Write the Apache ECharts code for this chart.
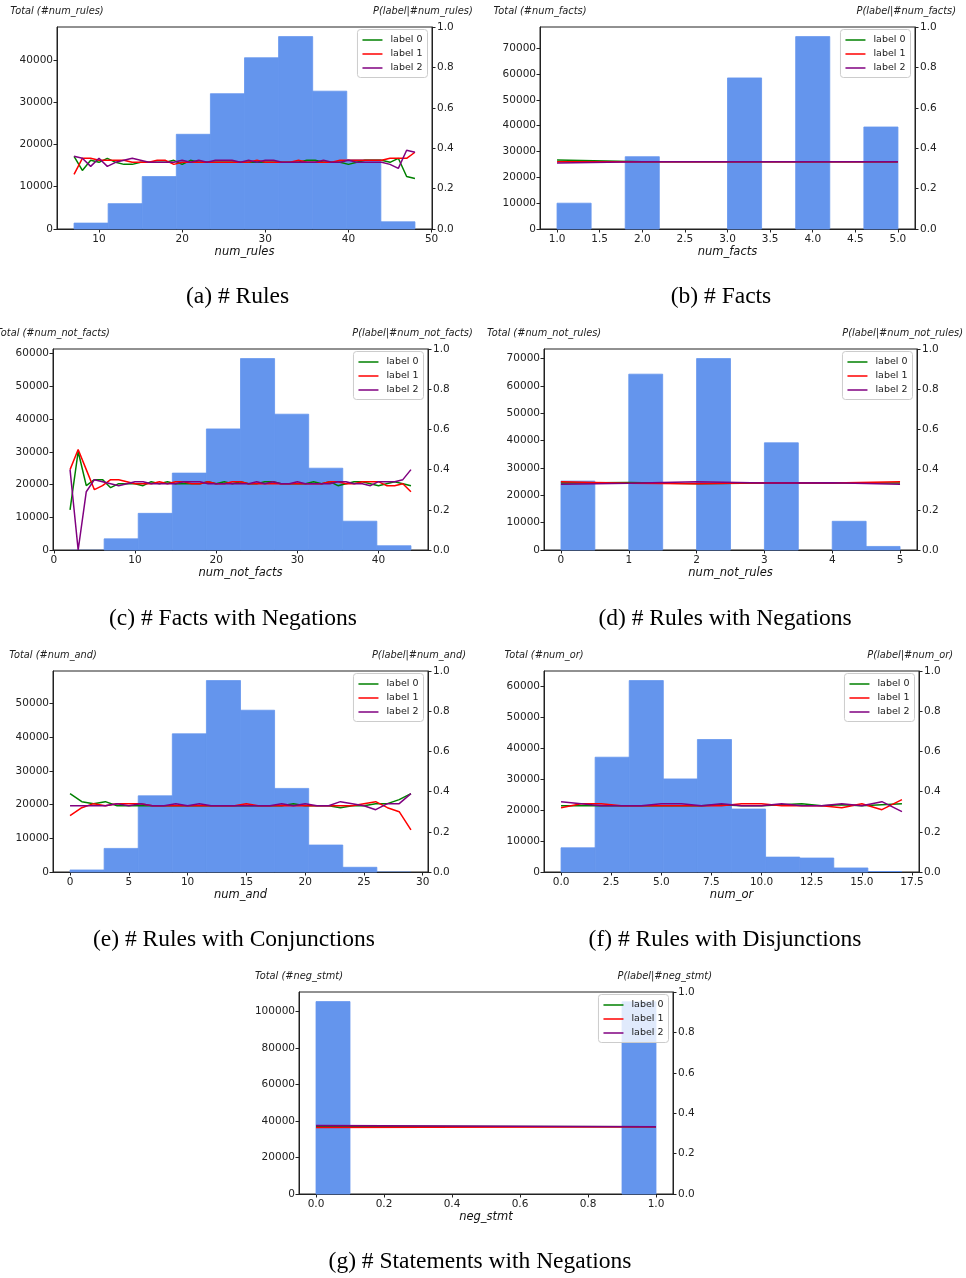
<!DOCTYPE html>
<html><head><meta charset="utf-8">
<script src="https://cdn.jsdelivr.net/npm/echarts@6/dist/echarts.min.js"></script>
<style>html,body{margin:0;padding:0;background:#fff}#c{width:966px;height:1278px}</style>
</head><body><div id="c"></div>
<script>
// ---------------- DATA ----------------
const seriesNames = ['label 0', 'label 1', 'label 2'];
const rightTicks = [0, 0.2, 0.4, 0.6, 0.8, 1.0];

// (a) num_rules
const a_edges = [7, 11.1, 15.2, 19.3, 23.4, 27.5, 31.6, 35.7, 39.8, 43.9, 48];
const a_counts = [1400, 6000, 12400, 22400, 32000, 40500, 45500, 32600, 16400, 1700];
const a_x = [7,8,9,10,11,12,13,14,15,16,17,18,19,20,21,22,23,24,25,26,27,28,29,30,31,32,33,34,35,36,37,38,39,40,41,42,43,44,45,46,47,48];
const a_p0 = [.36,.29,.34,.33,.35,.33,.32,.32,.33,.33,.33,.33,.34,.32,.34,.33,.33,.33,.33,.33,.33,.33,.33,.33,.33,.33,.33,.33,.34,.34,.33,.33,.33,.32,.33,.34,.34,.34,.33,.35,.26,.25];
const a_p1 = [.27,.35,.35,.34,.34,.34,.34,.33,.33,.33,.34,.34,.32,.33,.33,.33,.33,.33,.33,.33,.33,.33,.34,.33,.33,.33,.33,.34,.33,.33,.33,.33,.34,.34,.34,.34,.34,.34,.35,.35,.35,.38];
const a_p2 = [.36,.35,.31,.35,.31,.33,.34,.35,.34,.33,.33,.33,.33,.34,.33,.34,.33,.34,.34,.34,.33,.34,.33,.34,.34,.33,.33,.33,.33,.33,.34,.33,.33,.34,.33,.33,.33,.33,.32,.30,.39,.38];
const a_xticks = [10, 20, 30, 40, 50];
const a_yticks = [0, 10000, 20000, 30000, 40000];

// (b) num_facts
const b_edges = [1, 1.4, 1.8, 2.2, 2.6, 3.0, 3.4, 3.8, 4.2, 4.6, 5.0];
const b_counts = [10000, 0, 28000, 0, 0, 58500, 0, 74500, 0, 39500];
const b_x = [1, 2, 3, 4, 5];
const b_p0 = [.342, .333, .333, .333, .333];
const b_p1 = [.333, .333, .333, .333, .333];
const b_p2 = [.327, .333, .333, .333, .333];
const b_xticks = [1.0, 1.5, 2.0, 2.5, 3.0, 3.5, 4.0, 4.5, 5.0];
const b_yticks = [0, 10000, 20000, 30000, 40000, 50000, 60000, 70000];

// (c) num_not_facts
const c_edges = [2, 6.2, 10.4, 14.6, 18.8, 23, 27.2, 31.4, 35.6, 39.8, 44];
const c_counts = [40, 3400, 11200, 23500, 37000, 58500, 41500, 25000, 8800, 1300];
const c_x = [2,3,4,5,6,7,8,9,10,11,12,13,14,15,16,17,18,19,20,21,22,23,24,25,26,27,28,29,30,31,32,33,34,35,36,37,38,39,40,41,42,43,44];
const c_p0 = [.20,.49,.32,.35,.35,.31,.33,.33,.33,.32,.34,.33,.34,.33,.33,.33,.33,.34,.33,.34,.33,.34,.33,.33,.34,.34,.33,.33,.33,.33,.34,.33,.34,.32,.33,.34,.34,.33,.32,.33,.34,.33,.32];
const c_p1 = [.40,.50,.40,.30,.32,.35,.35,.34,.33,.33,.33,.34,.33,.34,.34,.33,.33,.34,.33,.33,.34,.34,.33,.33,.33,.33,.33,.33,.33,.33,.33,.33,.34,.34,.33,.33,.34,.34,.34,.32,.32,.33,.29];
const c_p2 = [.40,.00,.29,.35,.34,.33,.32,.33,.34,.34,.33,.33,.33,.33,.34,.34,.34,.33,.33,.33,.33,.33,.33,.34,.33,.34,.33,.33,.34,.33,.33,.33,.33,.34,.34,.33,.33,.32,.34,.34,.34,.35,.40];
const c_xticks = [0, 10, 20, 30, 40];
const c_yticks = [0, 10000, 20000, 30000, 40000, 50000, 60000];

// (d) num_not_rules
const d_edges = [0, 0.5, 1, 1.5, 2, 2.5, 3, 3.5, 4, 4.5, 5];
const d_counts = [25200, 0, 64300, 0, 70000, 0, 39200, 0, 10500, 1300];
const d_x = [0, 1, 2, 3, 4, 5];
const d_p0 = [.333, .336, .330, .333, .333, .333];
const d_p1 = [.340, .332, .330, .334, .333, .340];
const d_p2 = [.327, .332, .340, .333, .334, .327];
const d_xticks = [0, 1, 2, 3, 4, 5];
const d_yticks = [0, 10000, 20000, 30000, 40000, 50000, 60000, 70000];

// (e) num_and
const e_edges = [0, 2.9, 5.8, 8.7, 11.6, 14.5, 17.4, 20.3, 23.2, 26.1, 29];
const e_counts = [600, 7000, 22600, 41000, 56800, 48000, 24800, 8000, 1400, 150];
const e_x = [0,1,2,3,4,5,6,7,8,9,10,11,12,13,14,15,16,17,18,19,20,21,22,23,24,25,26,27,28,29];
const e_p0 = [.39,.35,.34,.35,.33,.33,.33,.33,.33,.33,.33,.33,.33,.33,.33,.33,.33,.33,.33,.34,.33,.33,.33,.32,.33,.33,.34,.34,.36,.39];
const e_p1 = [.28,.32,.34,.33,.34,.34,.34,.33,.33,.33,.33,.33,.33,.33,.33,.34,.33,.33,.33,.33,.33,.33,.33,.33,.33,.34,.35,.32,.30,.21];
const e_p2 = [.33,.33,.33,.33,.34,.33,.34,.33,.33,.34,.33,.34,.33,.33,.33,.33,.33,.33,.34,.33,.34,.33,.33,.35,.34,.33,.31,.34,.34,.39];
const e_xticks = [0, 5, 10, 15, 20, 25, 30];
const e_yticks = [0, 10000, 20000, 30000, 40000, 50000];

// (f) num_or
const f_edges = [0, 1.7, 3.4, 5.1, 6.8, 8.5, 10.2, 11.9, 13.6, 15.3, 17];
const f_counts = [7800, 37000, 61700, 30000, 42700, 20300, 4800, 4500, 1300, 300];
const f_x = [0,1,2,3,4,5,6,7,8,9,10,11,12,13,14,15,16,17];
const f_p0 = [.33,.33,.33,.33,.33,.33,.33,.33,.335,.33,.33,.335,.34,.33,.335,.33,.335,.34];
const f_p1 = [.32,.34,.34,.33,.33,.33,.33,.33,.33,.34,.34,.33,.33,.33,.32,.34,.31,.36];
const f_p2 = [.35,.34,.33,.33,.33,.34,.34,.33,.34,.33,.33,.34,.33,.33,.34,.33,.35,.30];
const f_xticks = [0, 2.5, 5.0, 7.5, 10.0, 12.5, 15.0, 17.5];
const f_yticks = [0, 10000, 20000, 30000, 40000, 50000, 60000];

// (g) neg_stmt
const g_edges = [0, 0.1, 0.2, 0.3, 0.4, 0.5, 0.6, 0.7, 0.8, 0.9, 1.0];
const g_counts = [105500, 0, 0, 0, 0, 0, 0, 0, 0, 105400];
const g_x = [0, 1];
const g_p0 = [.335, .333];
const g_p1 = [.329, .333];
const g_p2 = [.339, .333];
const g_xticks = [0, 0.2, 0.4, 0.6, 0.8, 1.0];
const g_yticks = [0, 20000, 40000, 60000, 80000, 100000];

const captions = ['(a) # Rules', '(b) # Facts', '(c) # Facts with Negations', '(d) # Rules with Negations',
  '(e) # Rules with Conjunctions', '(f) # Rules with Disjunctions', '(g) # Statements with Negations'];
const varNames = ['num_rules', 'num_facts', 'num_not_facts', 'num_not_rules', 'num_and', 'num_or', 'neg_stmt'];

// ---------------- LAYOUT ----------------
const FONT = '"DejaVu Sans", sans-serif';
const panels = [
  {edges:a_edges, counts:a_counts, x:a_x, p:[a_p0,a_p1,a_p2], xt:a_xticks, yt:a_yticks, dec:0,
   left:57, top:27, w:375, h:202, xr:[4.95,50.05], ymax:47775, rtx:472.7, ty:11, capX:237.5, capY:297},
  {edges:b_edges, counts:b_counts, x:b_x, p:[b_p0,b_p1,b_p2], xt:b_xticks, yt:b_yticks, dec:1,
   left:540, top:27, w:375, h:202, xr:[0.8,5.2], ymax:78225, rtx:956, ty:11, capX:721, capY:297},
  {edges:c_edges, counts:c_counts, x:c_x, p:[c_p0,c_p1,c_p2], xt:c_xticks, yt:c_yticks, dec:0,
   left:53, top:349, w:375, h:201, xr:[-0.1,46.1], ymax:61425, rtx:472.7, ty:333, capX:233, capY:619},
  {edges:d_edges, counts:d_counts, x:d_x, p:[d_p0,d_p1,d_p2], xt:d_xticks, yt:d_yticks, dec:0,
   left:544, top:349, w:373, h:201, xr:[-0.25,5.25], ymax:73500, rtx:963, ty:333, capX:725, capY:619},
  {edges:e_edges, counts:e_counts, x:e_x, p:[e_p0,e_p1,e_p2], xt:e_xticks, yt:e_yticks, dec:0,
   left:53, top:671, w:375, h:201, xr:[-1.45,30.45], ymax:59640, rtx:466, ty:655, capX:234, capY:940},
  {edges:f_edges, counts:f_counts, x:f_x, p:[f_p0,f_p1,f_p2], xt:f_xticks, yt:f_yticks, dec:1,
   left:544, top:671, w:375, h:201, xr:[-0.85,17.85], ymax:64785, rtx:953, ty:655, capX:725, capY:940},
  {edges:g_edges, counts:g_counts, x:g_x, p:[g_p0,g_p1,g_p2], xt:g_xticks, yt:g_yticks, dec:1,
   left:299, top:992, w:374, h:202, xr:[-0.05,1.05], ymax:110775, rtx:712, ty:976, capX:480, capY:1262}
];
const lineColors = ['#008000', '#ff0000', '#800080'];

const grid = [], xAxis = [], yAxis = [], series = [], legend = [], graphic = [];
const labelBase = {fontSize: 10.5, fontFamily: FONT, color: '#222'};

panels.forEach((P, i) => {
  grid.push({left: P.left, top: P.top, width: P.w, height: P.h, show: true,
    borderColor: '#222', borderWidth: 1, backgroundColor: 'transparent', containLabel: false});
  xAxis.push({type: 'value', gridIndex: i, min: P.xr[0], max: P.xr[1],
    name: varNames[i], nameLocation: 'middle', nameGap: 17,
    nameTextStyle: {fontStyle: 'italic', fontSize: 11.5, fontFamily: FONT, color: '#111'},
    axisLine: {show: true, onZero: false, lineStyle: {color: '#222', width: 1}},
    axisTick: {show: true, length: 3.5, customValues: P.xt, lineStyle: {color: '#222'}},
    axisLabel: Object.assign({customValues: P.xt, margin: 5,
      formatter: v => Number(v).toFixed(P.dec)}, labelBase),
    splitLine: {show: false}});
  yAxis.push({type: 'value', gridIndex: i, position: 'left', min: 0, max: P.ymax,
    axisLine: {show: true, onZero: false, lineStyle: {color: '#222', width: 1}},
    axisTick: {show: true, length: 3.5, customValues: P.yt, lineStyle: {color: '#222'}},
    axisLabel: Object.assign({customValues: P.yt, margin: 4, formatter: v => String(Math.round(v))}, labelBase),
    splitLine: {show: false}});
  yAxis.push({type: 'value', gridIndex: i, position: 'right', min: 0, max: 1,
    axisLine: {show: true, onZero: false, lineStyle: {color: '#222', width: 1}},
    axisTick: {show: true, length: 3.5, customValues: rightTicks, lineStyle: {color: '#222'}},
    axisLabel: Object.assign({customValues: rightTicks, margin: 5, formatter: v => Number(v).toFixed(1)}, labelBase),
    splitLine: {show: false}});

  const bins = P.counts.map((c, k) => [P.edges[k], P.edges[k + 1], c]);
  series.push({type: 'custom', xAxisIndex: i, yAxisIndex: 2 * i, data: bins, silent: true, z: 1,
    encode: {x: [0, 1], y: 2},
    renderItem: (params, api) => {
      if (!(api.value(2) > 0)) return null;
      const p0 = api.coord([api.value(0), api.value(2)]);
      const p1 = api.coord([api.value(1), 0]);
      const hgt = p1[1] - p0[1];
      const st = hgt > 1.5 ? {fill: '#6495ED', stroke: '#6495ED', lineWidth: 0.8} : {fill: '#6495ED'};
      return {type: 'rect', shape: {x: p0[0], y: p0[1], width: p1[0] - p0[0], height: hgt}, style: st};
    }});
  P.p.forEach((arr, s) => {
    series.push({type: 'line', name: seriesNames[s], xAxisIndex: i, yAxisIndex: 2 * i + 1,
      data: P.x.map((x, k) => [x, arr[k]]), symbol: 'none', silent: true, z: 3 + s,
      lineStyle: {color: lineColors[s], width: 1.5}, itemStyle: {color: lineColors[s]}});
  });

  legend.push({data: seriesNames, orient: 'vertical', selectedMode: false,
    right: 966 - (P.left + P.w - 4.5), top: P.top + 2.5,
    icon: 'rect', itemWidth: 20, itemHeight: 1.5, itemGap: 3,
    padding: [5, 5, 4, 5], backgroundColor: 'rgba(255,255,255,0.8)',
    borderColor: '#cccccc', borderWidth: 1, borderRadius: 3,
    textStyle: {fontSize: 9.5, fontFamily: FONT, color: '#222', lineHeight: 11, padding: [0, 0, 0, 3]}});

  const tFont = 'italic 9.8px ' + FONT;
  graphic.push({type: 'text', x: P.left, y: P.ty, silent: true,
    style: {text: 'Total (#' + varNames[i] + ')', font: tFont, fill: '#222',
      align: 'center', verticalAlign: 'middle', textAlign: 'center', textVerticalAlign: 'middle'}});
  graphic.push({type: 'text', x: P.rtx, y: P.ty, silent: true,
    style: {text: 'P(label|#' + varNames[i] + ')', font: tFont, fill: '#222',
      align: 'right', verticalAlign: 'middle', textAlign: 'right', textVerticalAlign: 'middle'}});
  graphic.push({type: 'text', x: P.capX, y: P.capY, silent: true,
    style: {text: captions[i], font: '23.5px "Liberation Serif", "Times New Roman", serif', fill: '#000',
      align: 'center', verticalAlign: 'middle', textAlign: 'center', textVerticalAlign: 'middle'}});
});

const chart = echarts.init(document.getElementById('c'), null, {renderer: 'canvas'});
chart.setOption({animation: false, backgroundColor: '#fff', grid, xAxis, yAxis, series, legend, graphic});
</script></body></html>
